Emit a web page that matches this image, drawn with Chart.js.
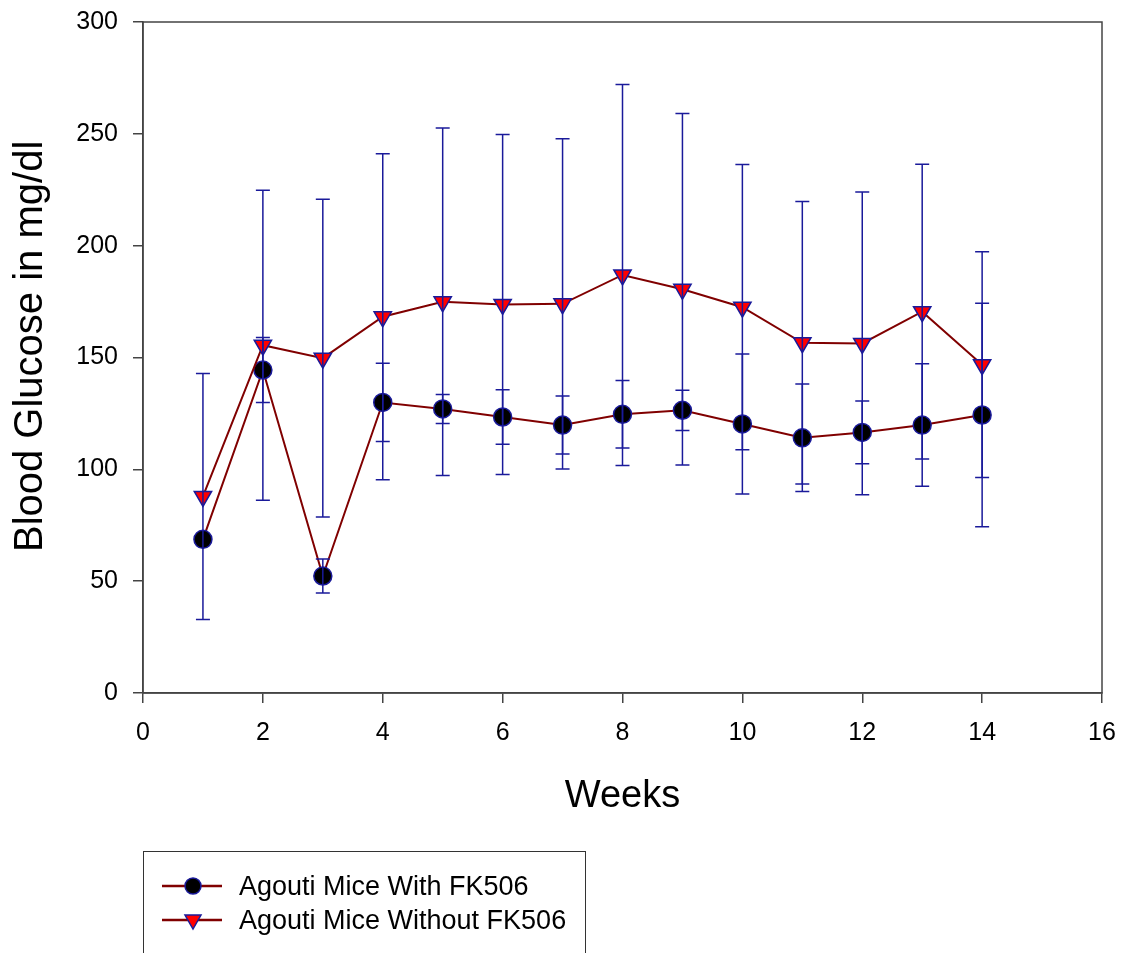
<!DOCTYPE html>
<html>
<head>
<meta charset="utf-8">
<script src="https://cdn.jsdelivr.net/npm/chart.js@4/dist/chart.umd.min.js"></script>
<style>
    html, body { margin: 0; padding: 0; background: #fff; }
    #wrap { position: relative; width: 1125px; height: 953px; overflow: hidden; }
    #legend {
        position: absolute; left: 143px; top: 851px; width: 443px; height: 130px;
        border: 1.5px solid #333; box-sizing: border-box;
        font-family: 'Liberation Sans', Arial, sans-serif; font-size: 27px; color: #000;
    }
    .item { position: absolute; left: 18px; height: 34px; display: flex; align-items: center; }
    .item svg { margin-right: 15px; }
</style>
</head>
<body>
<div id="wrap">
    <canvas id="chart1" width="1125" height="953"></canvas>
    <div id="legend">
        <div class="item" style="top: 17px;">
            <svg width="62" height="24"><line x1="0" y1="12" x2="60" y2="12" stroke="#800000" stroke-width="2.5"/><circle cx="31" cy="12" r="8" fill="#000" stroke="#1a1a9a" stroke-width="1.5"/></svg>
            <span>Agouti Mice With FK506</span>
        </div>
        <div class="item" style="top: 51px;">
            <svg width="62" height="24"><line x1="0" y1="12" x2="60" y2="12" stroke="#800000" stroke-width="2.5"/><polygon points="23,7 39,7 31,21" fill="#ff0000" stroke="#1a1a9a" stroke-width="1.5"/></svg>
            <span>Agouti Mice Without FK506</span>
        </div>
    </div>
</div>
<script>
const weeks = [1, 2, 3, 4, 5, 6, 7, 8, 9, 10, 11, 12, 13, 14];

const withFK = [68.7, 144.4, 52.3, 129.9, 127.0, 123.4, 119.8, 124.6, 126.4, 120.3, 114.1, 116.5, 119.8, 124.3];
const withFKErr = [0, 14.5, 7.6, 17.5, 6.5, 12.2, 13.0, 15.1, 9.0, 31.3, 24.0, 14.0, 27.4, 50.0];

const withoutFK = [87.9, 155.5, 149.7, 168.2, 174.9, 173.7, 174.0, 186.9, 180.5, 172.5, 156.6, 156.3, 170.5, 146.8];
const withoutFKErr = [55.0, 69.3, 71.0, 72.9, 77.7, 76.0, 73.8, 85.2, 78.6, 63.8, 63.2, 67.7, 65.9, 50.5];

const xTicks = [0, 2, 4, 6, 8, 10, 12, 14, 16];
const yTicks = [0, 50, 100, 150, 200, 250, 300];

const FONT = "'Liberation Sans', Arial, sans-serif";
const ERR_COLOR = '#1a1a9a';

// error bars + box around the plot
const errorBars = {
    id: 'errorBars',
    afterDatasetsDraw(chart) {
        const { ctx, scales: { x, y } } = chart;
        ctx.save();
        ctx.strokeStyle = ERR_COLOR;
        ctx.lineWidth = 1.5;
        chart.data.datasets.forEach(ds => {
            ds.data.forEach((p, i) => {
                const e = ds.err[i];
                if (!e) return;
                const px = x.getPixelForValue(p.x);
                const top = y.getPixelForValue(p.y + e);
                const bot = y.getPixelForValue(p.y - e);
                ctx.beginPath();
                ctx.moveTo(px, top); ctx.lineTo(px, bot);
                ctx.moveTo(px - 7, top); ctx.lineTo(px + 7, top);
                ctx.moveTo(px - 7, bot); ctx.lineTo(px + 7, bot);
                ctx.stroke();
            });
        });
        ctx.restore();
    },
    afterDraw(chart) {
        const { ctx, chartArea: a } = chart;
        ctx.save();
        ctx.strokeStyle = '#444';
        ctx.lineWidth = 1.5;
        ctx.strokeRect(a.left, a.top, a.right - a.left, a.bottom - a.top);
        ctx.restore();
    }
};

// drop the extra room Chart.js keeps for the end tick labels
const noScalePadding = s => {
    s.paddingTop = 0;
    s.paddingBottom = 0;
    s.paddingLeft = 0;
    s.paddingRight = 0;
};

new Chart(
    document.getElementById('chart1'),
    {
        type: 'line',
        data: {
            datasets: [
                {
                    label: 'Agouti Mice With FK506',
                    data: weeks.map((w, i) => ({ x: w, y: withFK[i] })),
                    err: withFKErr,
                    borderColor: '#800000',
                    borderWidth: 2,
                    pointStyle: 'circle',
                    pointRadius: 9,
                    pointBackgroundColor: '#000',
                    pointBorderColor: ERR_COLOR,
                    pointBorderWidth: 1.5,
                    order: 1
                },
                {
                    label: 'Agouti Mice Without FK506',
                    data: weeks.map((w, i) => ({ x: w, y: withoutFK[i] })),
                    err: withoutFKErr,
                    borderColor: '#800000',
                    borderWidth: 2,
                    pointStyle: 'triangle',
                    rotation: 180,
                    pointRadius: 10,
                    pointBackgroundColor: '#ff0000',
                    pointBorderColor: ERR_COLOR,
                    pointBorderWidth: 1.5,
                    order: 0
                }
            ]
        },
        options: {
            responsive: false,
            animation: false,
            layout: { padding: { left: 0, top: 22, right: 23, bottom: 134 } },
            plugins: {
                legend: { display: false },
                tooltip: { enabled: false }
            },
            scales: {
                x: {
                    type: 'linear',
                    min: 0,
                    max: 16,
                    afterBuildTicks: s => { s.ticks = xTicks.map(v => ({ value: v })); },
                    afterFit: s => { s.height = 126; noScalePadding(s); },
                    grid: { drawOnChartArea: false, drawTicks: true, tickLength: 10, color: '#444', lineWidth: 1.5 },
                    border: { color: '#444', width: 1.5 },
                    ticks: { color: '#000', padding: 15, font: { family: FONT, size: 25 } },
                    title: { display: true, text: 'Weeks', color: '#000', padding: 0, font: { family: FONT, size: 38 } }
                },
                y: {
                    min: 0,
                    max: 300,
                    afterBuildTicks: s => { s.ticks = yTicks.map(v => ({ value: v })); },
                    afterFit: s => { s.width = 143; noScalePadding(s); },
                    grid: { drawOnChartArea: false, drawTicks: true, tickLength: 10, color: '#444', lineWidth: 1.5 },
                    border: { color: '#444', width: 1.5 },
                    ticks: { color: '#000', padding: 15, font: { family: FONT, size: 25 } },
                    title: { display: true, text: '\u00a0\u00a0Blood Glucose in mg/dl', color: '#000', padding: { top: 7 }, font: { family: FONT, size: 40 } }
                }
            }
        },
        plugins: [errorBars]
    }
);
</script>
</body>
</html>
